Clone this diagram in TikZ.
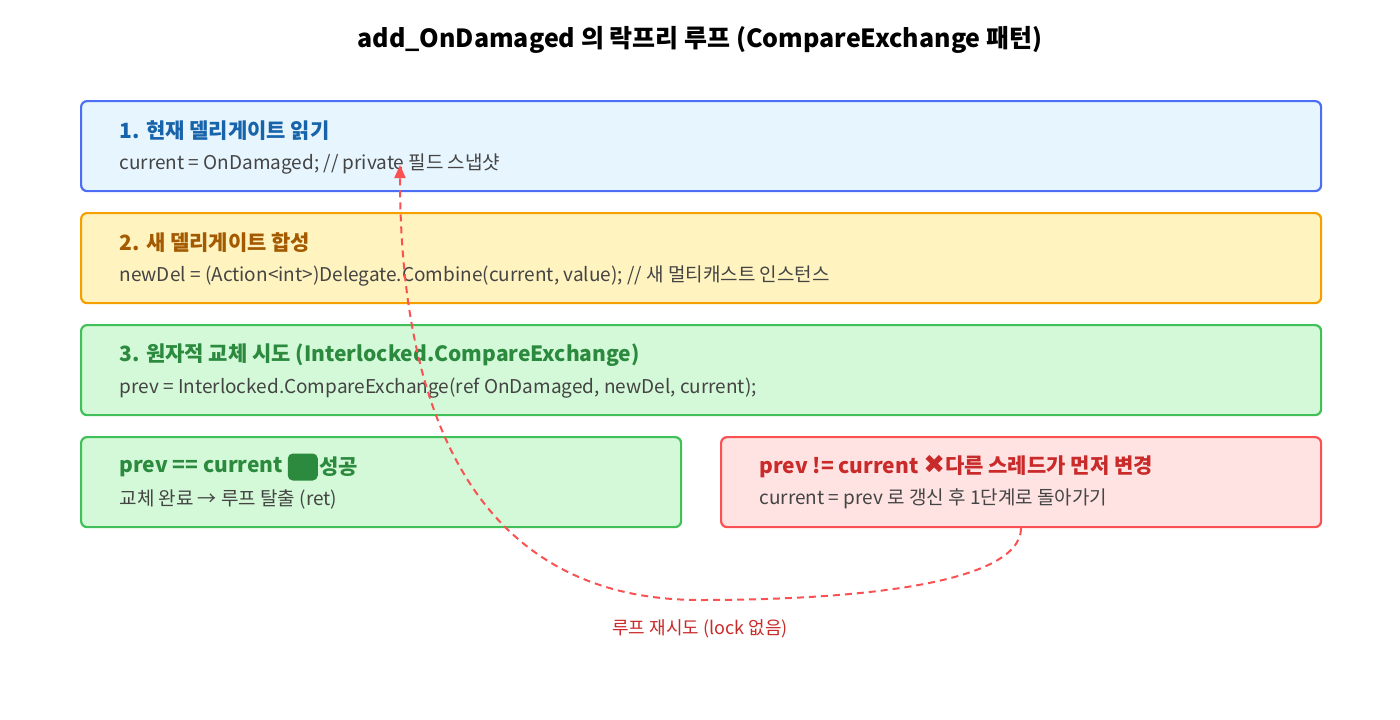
\documentclass[tikz,border=0pt]{standalone}
\usepackage{fontspec}
\setmainfont{Noto Sans CJK KR}
\newfontfamily\symfont{DejaVu Sans}
\usetikzlibrary{arrows.meta}
\definecolor{bluefill}{HTML}{E7F5FF}\definecolor{blueline}{HTML}{4C6EF5}\definecolor{bluetext}{HTML}{1864AB}
\definecolor{yelfill}{HTML}{FFF3BF}\definecolor{yelline}{HTML}{F59F00}\definecolor{yeltext}{HTML}{A35A00}
\definecolor{grnfill}{HTML}{D3F9D8}\definecolor{grnline}{HTML}{40C057}\definecolor{grntext}{HTML}{2B8A3E}
\definecolor{redfill}{HTML}{FFE3E3}\definecolor{redline}{HTML}{FA5252}\definecolor{redtext}{HTML}{C92A2A}
\definecolor{bodytext}{HTML}{444444}
\tikzset{
  stepbox/.style={draw,line width=2.2pt,rounded corners=6pt,anchor=north west},
  head/.style={anchor=west,font=\fontsize{21}{25}\selectfont\bfseries},
  body/.style={anchor=west,text=bodytext,font=\fontsize{19}{23}\selectfont},
}
\begin{document}
\begin{tikzpicture}[x=1pt,y=-1pt]
  \useasboundingbox (0,0) rectangle (1400,720);
  \node[font=\fontsize{25}{29}\selectfont\bfseries] (title) at (700,40) {add\_OnDamaged 의 락프리 루프 (CompareExchange 패턴)};
  % step boxes
  \node[stepbox,fill=bluefill,draw=blueline,minimum width=1240pt,minimum height=90pt] (read) at (80,100) {};
  \node[head,text=bluetext] at (116,131) {1. 현재 델리게이트 읽기};
  \node[body] at (116,164) {current = OnDamaged; // private 필드 스냅샷};
  \node[stepbox,fill=yelfill,draw=yelline,minimum width=1240pt,minimum height=90pt] (combine) at (80,212) {};
  \node[head,text=yeltext] at (116,243) {2. 새 델리게이트 합성};
  \node[body] at (116,276) {newDel = (Action<int>)Delegate.Combine(current, value); // 새 멀티캐스트 인스턴스};
  \node[stepbox,fill=grnfill,draw=grnline,minimum width=1240pt,minimum height=90pt] (cas) at (80,324) {};
  \node[head,text=grntext] at (116,355) {3. 원자적 교체 시도 (Interlocked.CompareExchange)};
  \node[body] at (116,388) {prev = Interlocked.CompareExchange(ref OnDamaged, newDel, current);};
  % outcomes
  \node[stepbox,fill=grnfill,draw=grnline,minimum width=600pt,minimum height=90pt] (ok) at (80,436) {};
  \node[head,text=grntext] (okhead) at (116,467) {prev == current};
  \node[fill=grntext,rounded corners=5pt,minimum width=30pt,minimum height=27pt,inner sep=0pt,right=1pt] (okicon) at (okhead.east) {};
  \node[head,text=grntext,inner sep=1pt] at (okicon.east) {성공};
  \node[body] at (116,499) {교체 완료 → 루프 탈출 (ret)};
  \node[stepbox,fill=redfill,draw=redline,minimum width=600pt,minimum height=90pt] (fail) at (720,436) {};
  \node[head,text=redtext] at (756,467) {prev != current {\symfont\fontsize{26}{26}\selectfont\textcolor{redtext}{✖}}다른 스레드가 먼저 변경};
  \node[body] at (756,499) {current = prev 로 갱신 후 1단계로 돌아가기};
  % retry loop
  \coordinate (back) at (400,165);
  \coordinate (low) at (700,600);
  \draw[redline,line width=2pt,dash pattern=on 7pt off 5pt,-{Triangle[length=13pt,width=11pt]}]
    (fail.south) .. controls (1020,585) and (850,600) .. (low)
    .. controls (480,600) and (400,420) .. (back);
  \node[text=redtext,font=\fontsize{18}{21}\selectfont] (retry) at (700,629) {루프 재시도 (lock 없음)};
\end{tikzpicture}
\end{document}
